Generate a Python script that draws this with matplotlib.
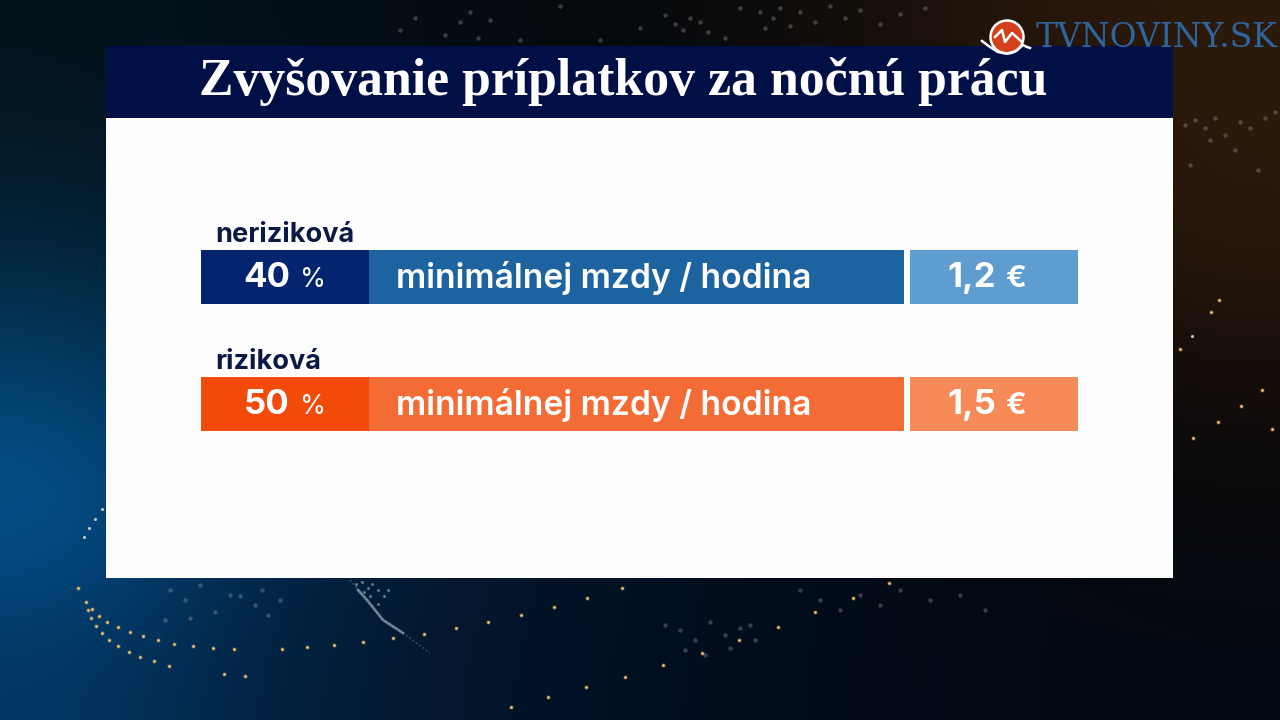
import matplotlib
matplotlib.use("Agg")
import matplotlib.pyplot as plt
from matplotlib.patches import Circle
import numpy as np

# ---- content ----
title = "Zvyšovanie príplatkov za nočnú prácu"
categories = ["neriziková", "riziková"]
percent_values = [40, 50]
euro_values = ["1,2", "1,5"]
middle_label = "minimálnej mzdy / hodina"
brand = "TVNOVINY.SK"

# ---- background colours (coarse grid, rows top to bottom) ----
bg_grid = np.array([
    [[3,20,28],[3,16,26],[4,12,20],[6,10,14],[8,10,12],[24,16,10],[38,22,10],[44,26,10]],
    [[3,32,50],[3,22,38],[3,18,32],[5,16,26],[8,14,20],[18,14,12],[34,20,10],[44,26,10]],
    [[3,60,100],[3,34,62],[3,22,42],[3,18,34],[4,14,26],[6,12,18],[14,12,12],[24,14,10]],
    [[4,88,150],[3,46,84],[2,28,54],[2,20,40],[2,15,30],[2,11,22],[5,9,14],[8,9,12]],
    [[3,54,98],[2,36,70],[2,24,48],[2,18,38],[2,14,30],[2,10,24],[2,9,20],[2,8,18]],
]) / 255.0

# ---- decorative particles (x, y in reference pixels) ----
orange_dots_x = [78,86,88,92,99,107,118,130,143,158,174,193,213,234,282,307,334,363,393,424,456,
                 91,96,102,109,118,129,140,154,169,224,245,
                 488,521,554,587,622,889,853,815,778,739,702,663,625,586,548,511,
                 1219,1211,1180,1262,1241,1218,1193,1272]
orange_dots_y = [588,602,610,609,616,622,627,632,636,640,644,646,648,649,649,647,645,642,638,634,628,
                 618,626,633,640,646,652,657,661,666,674,676,
                 622,615,607,598,588,583,598,612,627,640,653,665,677,687,697,707,
                 300,312,349,390,406,422,438,429]
pale_dots_x = [102,95,89,84,1192]
pale_dots_y = [509,519,528,537,336]
streak_x = [350,367,383,403,430]
streak_y = [580,600,620,633,653]
streak_core_x = [358,367,383,403]
streak_core_y = [590,600,620,633]
spark_x = [356,362,368,372,378,384,388,378,370,364]
spark_y = [584,582,588,584,590,596,590,604,596,592]
dust_x = [400,415,445,460,470,478,490,520,560,600,640,665,675,683,690,700,708,725,740,
          760,765,773,780,790,800,815,830,845,860,880,900,925,
          1185,1195,1205,1215,1225,1240,1250,1265,1275,1190,1210,1235,1258,
          170,185,200,215,240,255,262,280,165,190,230,268,
          665,680,695,710,725,740,755,685,705,730,750,
          800,820,840,860,880,900,930,960,985]
dust_y = [30,18,35,22,12,38,20,40,6,40,28,15,24,30,18,22,32,38,8,
          12,28,18,8,26,12,22,6,18,10,24,14,8,
          125,120,128,118,135,122,128,118,112,165,140,150,170,
          590,600,585,612,596,605,590,600,620,618,595,615,
          625,630,640,622,635,628,640,650,655,648,625,
          590,600,610,595,605,590,600,595,610]

WHITE = "#fdfdfd"
NAVY = "#010f47"

fig = plt.figure(figsize=(12.8, 7.2), dpi=100)
ax = fig.add_axes([0, 0, 1, 1])
ax.imshow(bg_grid, extent=(0, 1280, 720, 0), aspect="auto", interpolation="bicubic", zorder=0)
ax.set_xlim(0, 1280)
ax.set_ylim(720, 0)
ax.axis("off")

ax.scatter(dust_x, dust_y, s=10, color="#c8c4b8", linewidths=0, alpha=0.28, zorder=1)
ax.scatter(orange_dots_x, orange_dots_y, s=12, color="#e0a03e", linewidths=0, alpha=0.25, zorder=1)
ax.scatter(orange_dots_x, orange_dots_y, s=4, color="#f0c77a", linewidths=0, zorder=1)
ax.scatter(pale_dots_x, pale_dots_y, s=5, color="#d8d8c8", linewidths=0, alpha=0.9, zorder=1)
ax.plot(streak_x, streak_y, color="#9fb4c4", linewidth=1.0, alpha=0.35, linestyle=(0, (1.5, 1.5)), zorder=1)
ax.plot(streak_core_x, streak_core_y, color="#c4d4de", linewidth=2.0, alpha=0.5, zorder=1)
ax.scatter(spark_x, spark_y, s=4, color="#b9cbd8", linewidths=0, alpha=0.6, zorder=1)

# panel
ax.fill_between([106, 1173], 46, 118, color=NAVY, linewidth=0, zorder=2)
ax.fill_between([106, 1173], 118, 578, color=WHITE, linewidth=0, zorder=2)
ax.text(199, 82, title, family="Liberation Serif", weight="bold", fontsize=37.3,
        color="white", va="center", ha="left", zorder=4)

# rows
row_top = [250, 377]
row_h = 54
dark = ["#03256f", "#f24a08"]
mid = ["#1c639f", "#f46c35"]
light = ["#5f9ccf", "#f68a58"]
sans = ["Inter", "Lato", "DejaVu Sans"]
for i, cat in enumerate(categories):
    y = row_top[i] + row_h / 2
    ax.barh(y, 167.5, left=201, height=row_h, color=dark[i], linewidth=0, zorder=3)
    ax.barh(y, 535, left=368.5, height=row_h, color=mid[i], linewidth=0, zorder=3)
    ax.barh(y, 168, left=910, height=row_h, color=light[i], linewidth=0, zorder=3)
    ax.text(215.5, row_top[i] - 15, cat, family=sans, weight="bold", fontsize=19.5, color="#0a1a45",
            va="center", ha="left", zorder=4)
    ax.text(243.5, y + 1, str(percent_values[i]), family=sans, weight="bold", fontsize=25,
            color="white", va="center", ha="left", zorder=4)
    ax.text(300, y + 3, "%", family=sans, fontsize=19, color="white", va="center", ha="left", zorder=4)
    ax.text(396, y + 1, middle_label, family=sans, weight="semibold", fontsize=24.2, color="white",
            va="center", ha="left", zorder=4)
    ax.text(947, y + 1, euro_values[i], family=sans, weight="bold", fontsize=25, color="white",
            va="center", ha="left", zorder=4)
    ax.text(1005, y + 2, "€", family=sans, weight="bold", fontsize=22, color="white",
            va="center", ha="left", zorder=4)

# logo
ax.add_patch(Circle((1007, 37), 16.5, facecolor="#d2401c", edgecolor="white", linewidth=1.8, zorder=5))
ax.plot([982, 990, 998, 1007, 1016, 1023, 1027, 1030],
        [41, 47, 52, 53.5, 51, 45, 47, 48], color="white", linewidth=1.8, zorder=6)
ax.plot([995, 1002, 1005, 1012, 1022], [37, 30, 42, 33, 42], color="white", linewidth=1.8, zorder=6)
ax.text(1036, 38, brand, family="DejaVu Serif", fontsize=23.7, color="#2f659f",
        va="center", ha="left", zorder=5)

fig.savefig("out.png", dpi=100)
